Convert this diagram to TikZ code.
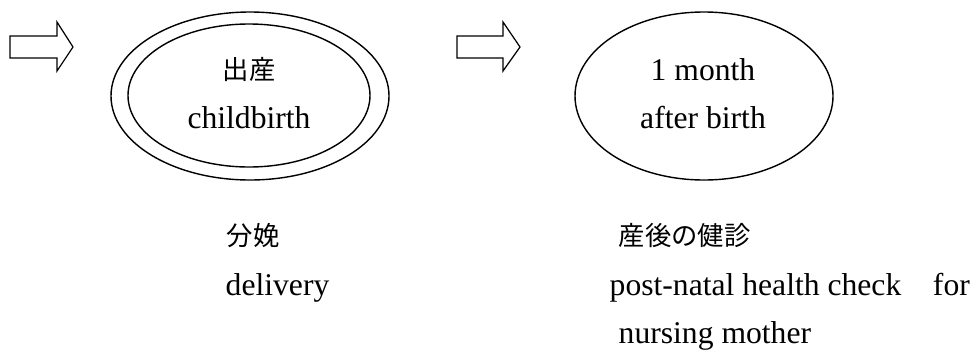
\documentclass[tikz,border=0pt]{standalone}
\usepackage{fontspec}
\setmainfont{Liberation Serif}
\newfontfamily\jpfont{Noto Sans CJK JP}
\usepackage{tikz}

\tikzset{
 en/.style={inner sep=0pt, font=\fontsize{18pt}{21pt}\selectfont},
 jp/.style={inner sep=0pt, font=\jpfont\fontsize{15pt}{18pt}\selectfont},
}

\begin{document}
\begin{tikzpicture}[line width=0.8pt]
\useasboundingbox (0,0) rectangle (19.52,7);

% Block arrow into childbirth
 \draw [line width=0.7pt] (0.2,6.28) -- (1.14,6.28) -- (1.14,6.56) -- (1.46,6.06) -- (1.14,5.58) -- (1.14,5.84) -- (0.2,5.84) -- cycle;

% Childbirth (double ellipse)
 \draw (5.0,5.08) ellipse (2.78 and 1.68);
 \draw (4.98,5.09) ellipse (2.42 and 1.43);
 \node[jp, anchor=base] (birthjp) at (4.98,5.42) {出産};
 \node[en, anchor=base] (birthen) at (4.98,4.44) {childbirth};

% Block arrow into 1 month
 \draw [line width=0.7pt] (9.14,6.28) -- (10.06,6.28) -- (10.06,6.56) -- (10.4,6.06) -- (10.06,5.58) -- (10.06,5.84) -- (9.14,5.84) -- cycle;

% One month after birth
 \draw (14.08,5.08) ellipse (2.58 and 1.68);
 \node[en, anchor=base] (month) at (14.06,5.4) {1 month};
 \node[en, anchor=base] (after) at (14.06,4.44) {after birth};

% Labels below
 \node[jp, anchor=base west] (deliveryjp) at (4.52,2.1) {分娩};
 \node[en, anchor=base west] (delivery) at (4.5,1.1) {delivery};
 \node[jp, anchor=base west] (checkjp) at (12.36,2.1) {産後の健診};
 \node[en, anchor=base west] (check) at (12.18,1.1) {post-natal health check\hspace{1em}for};
 \node[en, anchor=base west] (mother) at (12.36,0.14) {nursing mother};

\end{tikzpicture}
\end{document}
